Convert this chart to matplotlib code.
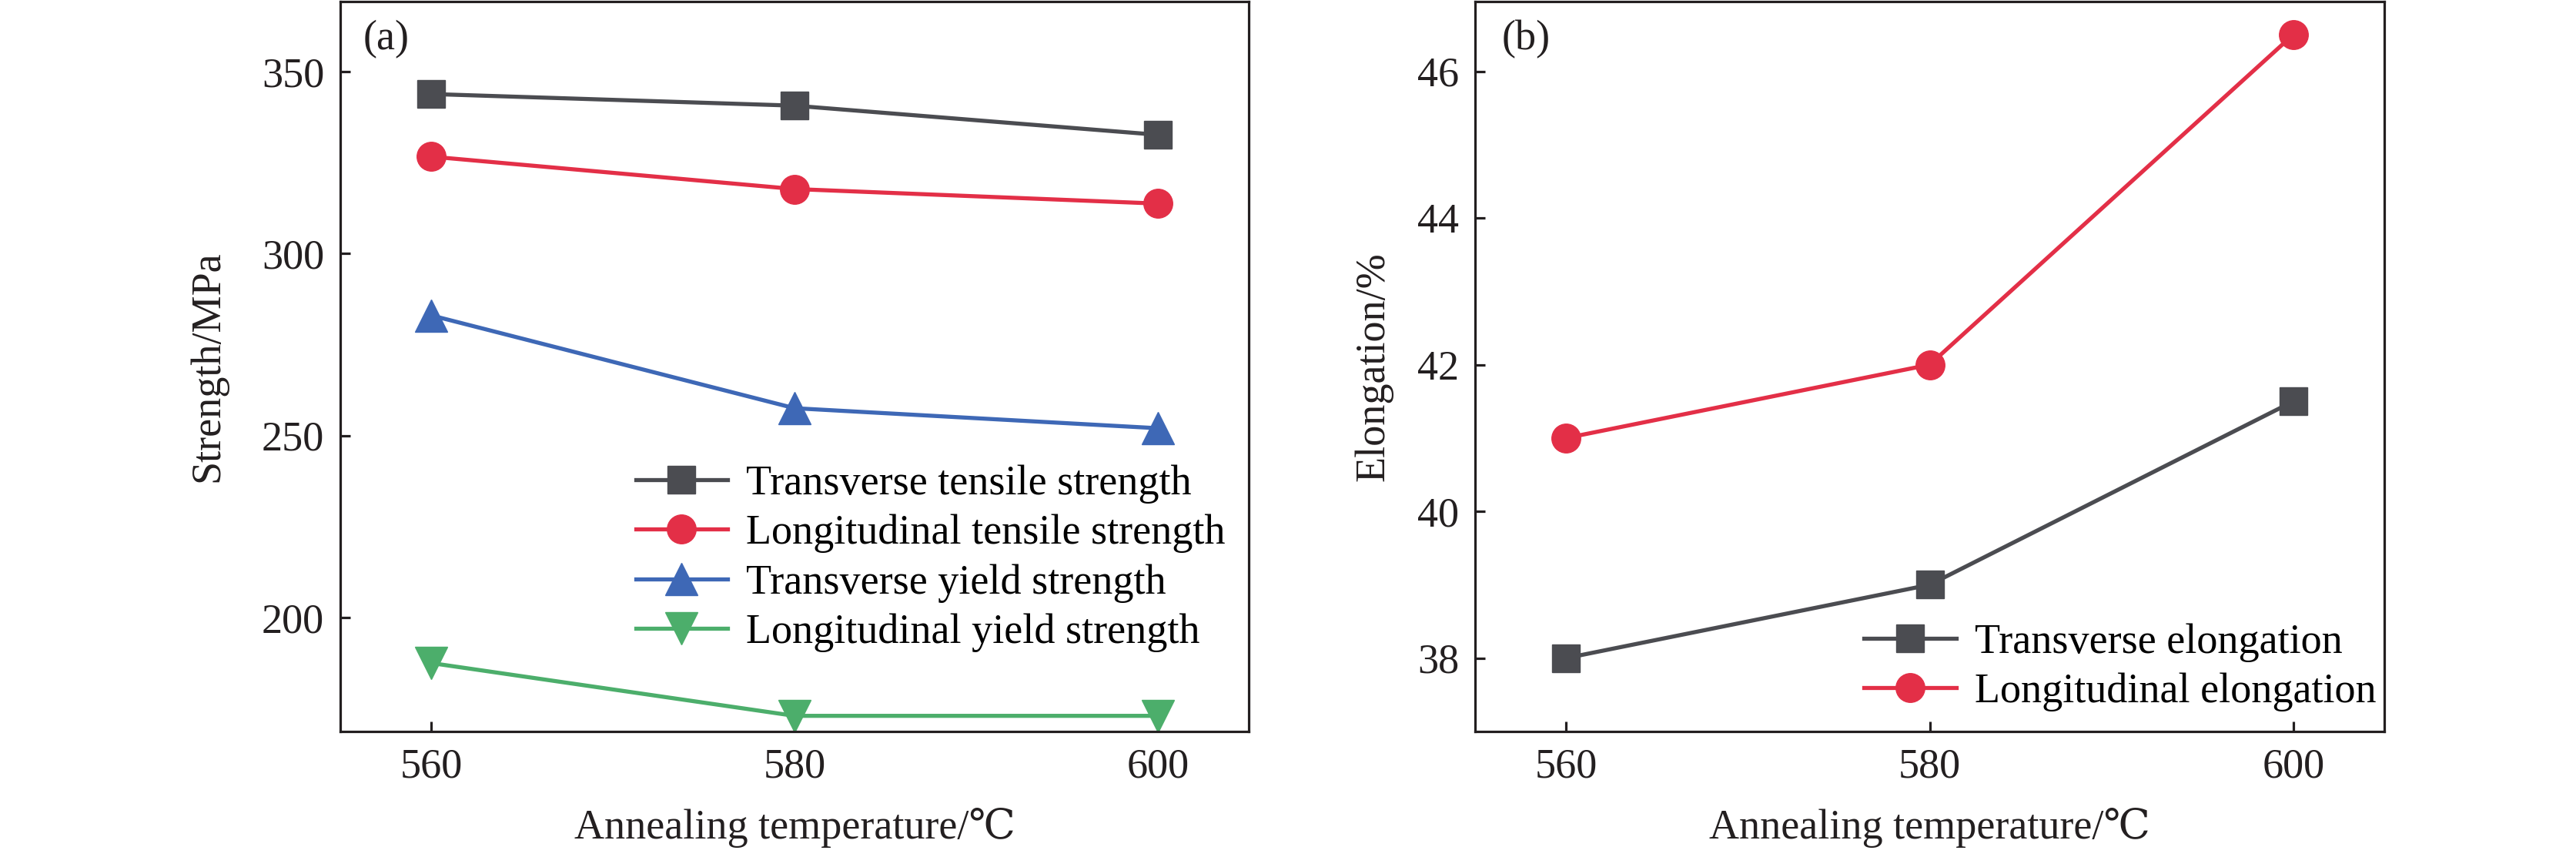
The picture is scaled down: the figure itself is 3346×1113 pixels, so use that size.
import matplotlib
matplotlib.use("Agg")
import matplotlib.pyplot as plt

plt.rcParams['font.family'] = ['Liberation Serif', 'DejaVu Serif', 'DejaVu Sans', 'Noto Sans CJK SC']
plt.rcParams['mathtext.fontset'] = 'stix'

# ---- data ----
temps = [560, 580, 600]
xticks = [560, 580, 600]

trans_tensile = [343.8, 340.6, 332.6]
long_tensile = [326.6, 317.7, 313.7]
trans_yield = [283.0, 257.5, 252.0]
long_yield = [187.5, 173.0, 173.0]
labels_a = ["Transverse tensile strength", "Longitudinal tensile strength",
            "Transverse yield strength", "Longitudinal yield strength"]
yticks_a = [200, 250, 300, 350]

trans_elong = [38.0, 39.0, 41.5]
long_elong = [41.0, 42.0, 46.5]
labels_b = ["Transverse elongation", "Longitudinal elongation"]
yticks_b = [38, 40, 42, 44, 46]

xlabel = "Annealing temperature/℃"
ylabel_a = "Strength/MPa"
ylabel_b = "Elongation/%"

# ---- style ----
C_BLACK = '#4b4c51'
C_RED = '#e32f47'
C_BLUE = '#3e68b6'
C_GREEN = '#4cae6b'
FS = 39
LW = 3.8

W, H = 3346, 1113
fig = plt.figure(figsize=(W / 100, H / 100), dpi=100)
ax1 = fig.add_axes([442 / W, (H - 950) / H, 1180 / W, 948 / H])
ax2 = fig.add_axes([1916 / W, (H - 950) / H, 1181 / W, 948 / H])


def style(ax):
    for s in ax.spines.values():
        s.set_linewidth(2.3)
        s.set_color('#231f20')
    ax.tick_params(axis='both', which='both', direction='in', length=9.5, width=2.3,
                   labelsize=FS, pad=15, top=False, right=False, color='#231f20',
                   labelcolor='#231f20')
    ax.set_xlim(555, 605)
    ax.set_xticks(xticks)


# panel (a)
ax1.plot(temps, trans_tensile, '-s', color=C_BLACK, lw=LW, ms=26, label=labels_a[0])
ax1.plot(temps, long_tensile, '-o', color=C_RED, lw=LW, ms=27, label=labels_a[1])
ax1.plot(temps, trans_yield, '-^', color=C_BLUE, lw=LW, ms=30, label=labels_a[2])
ax1.plot(temps, long_yield, '-v', color=C_GREEN, lw=LW, ms=30, label=labels_a[3])
style(ax1)
ax1.set_ylim(168.7, 369.2)
ax1.set_yticks(yticks_a)
ax1.set_xlabel(xlabel, fontsize=FS, color='#231f20')
ax1.set_ylabel(ylabel_a, fontsize=FS, color='#231f20')
ax1.xaxis.set_label_coords(0.5, -0.104)
ax1.yaxis.set_label_coords(-0.124, 0.5)
ax1.text(0.025, 0.975, "(a)", transform=ax1.transAxes, fontsize=FS, va='top', ha='left',
         color='#231f20')
ax1.legend(loc='center left', bbox_to_anchor=(0.325, 0.237), frameon=False, fontsize=FS,
           borderpad=0, borderaxespad=0, handlelength=2.2, handletextpad=0.45,
           labelspacing=0.26)

# panel (b)
ax2.plot(temps, trans_elong, '-s', color=C_BLACK, lw=LW, ms=26, label=labels_b[0])
ax2.plot(temps, long_elong, '-o', color=C_RED, lw=LW, ms=27, label=labels_b[1])
style(ax2)
ax2.set_ylim(37.0, 46.95)
ax2.set_yticks(yticks_b)
ax2.set_xlabel(xlabel, fontsize=FS, color='#231f20')
ax2.set_ylabel(ylabel_b, fontsize=FS, color='#231f20')
ax2.xaxis.set_label_coords(0.5, -0.104)
ax2.yaxis.set_label_coords(-0.090, 0.5)
ax2.text(0.029, 0.975, "(b)", transform=ax2.transAxes, fontsize=FS, va='top', ha='left',
         color='#231f20')
ax2.legend(loc='center left', bbox_to_anchor=(0.428, 0.088), frameon=False, fontsize=FS,
           borderpad=0, borderaxespad=0, handlelength=2.2, handletextpad=0.45,
           labelspacing=0.26)

fig.savefig("out.png", dpi=100)
